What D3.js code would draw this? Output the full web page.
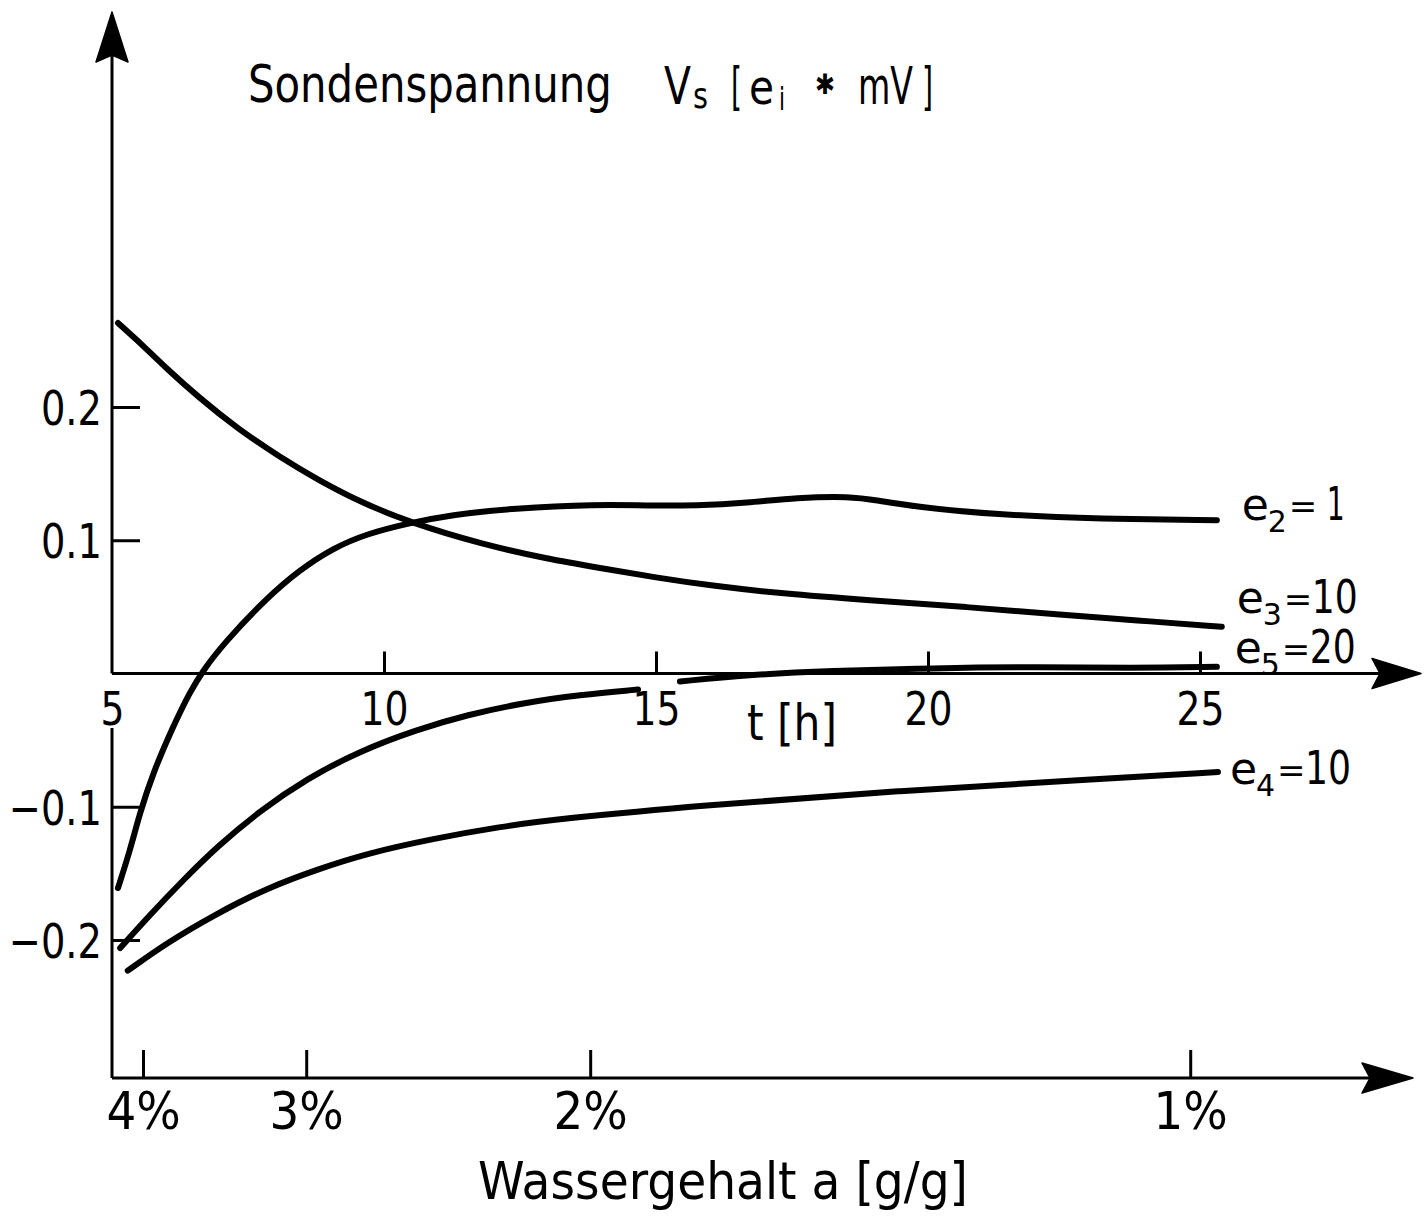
<!DOCTYPE html>
<html>
<head>
<meta charset="utf-8">
<script src="https://cdn.jsdelivr.net/npm/d3@7"></script>
<style>
  body { margin: 0; background: #fff; }
  svg { display: block; }
  text { font-family: "DejaVu Sans", "Liberation Sans", sans-serif; fill: #000; }
</style>
</head>
<body>
<svg id="chart" width="1424" height="1217"></svg>
<script>
// ---- data: probe voltage Vs [e_i * mV] over drying time t [h] ----
const tTicks = [5, 10, 15, 20, 25];
const vTicks = [-0.2, -0.1, 0.1, 0.2];
// water content a [g/g] marked along the time axis
const moistureLabels = ["4%", "3%", "2%", "1%"];
const moistureAtT = [5.57, 8.57, 13.79, 24.82];

// e2 = 1
const curveE2 = [
  [5.11, -0.161], [5.33, -0.133], [5.51, -0.105], [5.75, -0.075], [6.12, -0.040],
  [6.43, -0.014], [6.67, 0.002], [7.04, 0.022], [7.85, 0.057], [8.46, 0.078],
  [9.06, 0.094], [9.69, 0.105], [10.48, 0.113], [11.21, 0.119], [12.37, 0.124],
  [13.92, 0.127], [14.83, 0.126], [15.75, 0.126], [16.67, 0.128], [17.59, 0.132],
  [18.57, 0.133], [19.06, 0.130], [19.80, 0.125], [21.32, 0.119], [23.16, 0.116],
  [25.31, 0.115]
];
// e3 = 10
const curveE3 = [
  [5.11, 0.263], [5.60, 0.245], [6.00, 0.229], [6.60, 0.207], [7.30, 0.184],
  [8.10, 0.162], [8.80, 0.145], [9.60, 0.128], [10.50, 0.113], [11.80, 0.097],
  [13.00, 0.086], [14.00, 0.079], [15.00, 0.072], [16.00, 0.066], [17.30, 0.060],
  [18.90, 0.055], [20.70, 0.050], [22.50, 0.044], [23.80, 0.040], [25.40, 0.035]
];
// e5 = 20 (drawn in two strokes, broken near t = 15)
const curveE5a = [
  [5.15, -0.206], [5.70, -0.181], [6.31, -0.155], [6.93, -0.130], [7.72, -0.103],
  [8.58, -0.079], [9.56, -0.058], [10.61, -0.042], [11.53, -0.031], [12.56, -0.022],
  [13.60, -0.016], [14.67, -0.012]
];
const curveE5b = [
  [15.44, -0.006], [16.67, -0.001], [18.20, 0.002], [20.10, 0.004], [21.93, 0.005],
  [23.77, 0.004], [25.31, 0.005]
];
// e4 = 10
const curveE4 = [
  [5.29, -0.223], [6.01, -0.202], [6.93, -0.180], [7.85, -0.161], [8.77, -0.147],
  [9.69, -0.135], [10.90, -0.124], [12.13, -0.115], [13.24, -0.109], [15.81, -0.099],
  [19.49, -0.088], [23.16, -0.079], [25.33, -0.074]
];

const curves = [curveE2, curveE3, curveE5a, curveE5b, curveE4];

// curve labels: subscript index and value, attached to the curve's last point
const labelSubs = ["2", "3", "5", "4"];
const labelValues = ["1", "10", "20", "10"];
const labelCurves = [curveE2, curveE3, curveE5b, curveE4];

// ---- layout ----
const svg = d3.select("#chart");
const x = d3.scaleLinear().domain([5, 25]).range([112, 1200]);
const y = d3.scaleLinear().domain([-0.2, 0.2]).range([940, 407]);
const y0 = y(0);
const xAxisLeft = x(5);
const yMoisture = 1078;
const AXIS_W = 3;

// narrow the lettering like stencil type
function condense(sel, k) {
  sel.each(function () {
    const w = this.getComputedTextLength();
    d3.select(this).attr("textLength", w * k).attr("lengthAdjust", "spacingAndGlyphs");
  });
}
// a piece of text squeezed horizontally to a given width
function squeezed(parent, str, px, py, size, width) {
  const t = parent.append("text").attr("font-size", size).text(str);
  const w = t.node().getComputedTextLength();
  const k = width / w;
  t.attr("transform", `translate(${px},${py}) scale(${k},1)`);
  return t;
}

const axes = svg.append("g").attr("stroke", "#000").attr("stroke-width", AXIS_W).attr("fill", "none");

// vertical axis, broken where the "5" label sits
axes.append("line").attr("x1", xAxisLeft).attr("x2", xAxisLeft).attr("y1", 50).attr("y2", y0);
axes.append("line").attr("x1", xAxisLeft).attr("x2", xAxisLeft).attr("y1", 728).attr("y2", yMoisture);
// time axis
axes.append("line").attr("x1", xAxisLeft).attr("x2", 1385).attr("y1", y0).attr("y2", y0);
// water content axis
axes.append("line").attr("x1", xAxisLeft).attr("x2", 1380).attr("y1", yMoisture).attr("y2", yMoisture);

// arrow heads
const heads = svg.append("g").attr("fill", "#000").attr("stroke", "#000").attr("stroke-width", 1.5).attr("stroke-linejoin", "round");
heads.append("path").attr("d", `M${xAxisLeft},12 L${xAxisLeft - 16},62 L${xAxisLeft},55 L${xAxisLeft + 16},62 Z`);
heads.append("path").attr("d", `M1421,${y0} L1372,${y0 - 15} L1380,${y0} L1372,${y0 + 15} Z`);
heads.append("path").attr("d", `M1413,${yMoisture} L1362,${yMoisture - 15} L1370,${yMoisture} L1362,${yMoisture + 15} Z`);

// time ticks
const gT = svg.append("g").attr("transform", `translate(0,${y0})`)
  .call(d3.axisBottom(x).tickValues(tTicks).tickSize(-22).tickPadding(19).tickFormat(d3.format("d")));
// voltage ticks
const gV = svg.append("g").attr("transform", `translate(${xAxisLeft},0)`)
  .call(d3.axisLeft(y).tickValues(vTicks).tickSize(-28).tickPadding(10)
    .tickFormat(v => (v < 0 ? "\u2212" : "") + Math.abs(v).toFixed(1)));
// water content ticks
const gM = svg.append("g").attr("transform", `translate(0,${yMoisture})`)
  .call(d3.axisBottom(x).tickValues(moistureAtT).tickSize(-28).tickPadding(14)
    .tickFormat((d, i) => moistureLabels[i]));

[gT, gV, gM].forEach(g => {
  g.select(".domain").remove();
  g.selectAll(".tick line").attr("stroke", "#000").attr("stroke-width", AXIS_W);
  g.attr("font-family", null).selectAll("text").attr("fill", "#000");
});
gT.selectAll("text").attr("font-size", 46);
gT.selectAll(".tick").filter(d => d === 5).select("line").remove();
gV.selectAll("text").attr("font-size", 48).attr("dy", "0.36em");
gM.selectAll("text").attr("font-size", 52);
condense(gT.selectAll("text"), 0.82);
condense(gV.selectAll("text"), 0.8);
condense(gM.selectAll("text"), 0.9);

// curves
const line = d3.line()
  .x(d => x(d[0]))
  .y(d => y(d[1]))
  .curve(d3.curveBasis);

svg.append("g")
  .selectAll("path")
  .data(curves)
  .join("path")
  .attr("d", line)
  .attr("fill", "none")
  .attr("stroke", "#000")
  .attr("stroke-width", 6)
  .attr("stroke-linecap", "round")
  .attr("stroke-linejoin", "round");

// curve labels "e_i = value", one text element each
const labelOffsets = [[25, 0], [15, -14], [18, -4], [12, 12]];
const lab = svg.append("g");
labelCurves.forEach((c, i) => {
  const last = c[c.length - 1];
  const lx = x(last[0]) + labelOffsets[i][0];
  const ly = y(last[1]) + labelOffsets[i][1];
  const v = labelValues[i];
  const t = lab.append("text").attr("y", ly).attr("font-size", 46);
  t.append("tspan").attr("x", lx).attr("font-size", 44).text("e");
  t.append("tspan").attr("x", lx + 26).attr("dy", 12).attr("font-size", 30).text(labelSubs[i]);
  t.append("tspan").attr("x", lx + 47).attr("dy", -14).attr("font-size", 34).text("=");
  t.append("tspan").attr("x", lx + (v.length > 1 ? 75 : 85)).attr("dy", 2)
    .attr("textLength", v.length > 1 ? 46 : 18).attr("lengthAdjust", "spacingAndGlyphs").text(v);
});

// axis titles
svg.append("text").attr("x", 747).attr("y", 740).attr("font-size", 50)
  .attr("textLength", 90).attr("lengthAdjust", "spacingAndGlyphs").text("t [h]");
svg.append("text").attr("x", 478).attr("y", 1199).attr("font-size", 52)
  .attr("textLength", 490).attr("lengthAdjust", "spacingAndGlyphs").text("Wassergehalt  a [g/g]");

// vertical axis title: Sondenspannung Vs [e_i * mV]
const title = svg.append("g");
squeezed(title, "Sondenspannung", 248, 102, 52, 364);
squeezed(title, "V", 664, 104, 52, 27);
squeezed(title, "s", 693, 108, 36, 15);
squeezed(title, "[", 731, 104, 52, 11);
squeezed(title, "e", 749, 104, 48, 25);
squeezed(title, "i", 779, 110, 32, 6);
squeezed(title, "\u2731", 815, 94, 28, 20);
squeezed(title, "mV", 858, 104, 52, 55);
squeezed(title, "]", 922, 104, 52, 11);
</script>
</body>
</html>
